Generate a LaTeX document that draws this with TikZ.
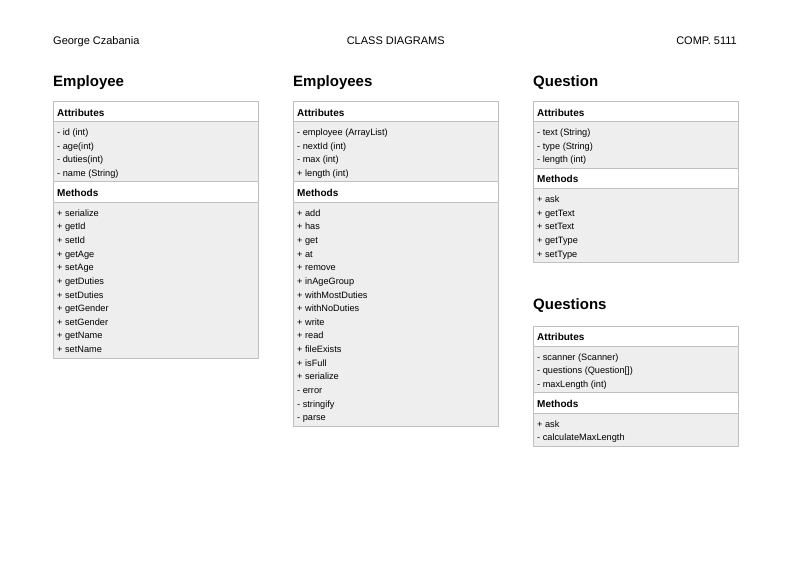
\documentclass[tikz,border=0pt]{standalone}
\usepackage{fontspec}
\setmainfont{Liberation Sans}
\definecolor{boxgray}{RGB}{192,192,192}
\definecolor{listgray}{RGB}{238,238,238}

\begin{document}
\begin{tikzpicture}[x=1pt,y=-1pt,
    classname/.style={anchor=base west, inner sep=0pt, font=\fontsize{15}{18}\selectfont\bfseries},
    sechead/.style={anchor=north west, draw=boxgray, fill=white, minimum width=205.5pt, minimum height=20.5pt, inner sep=0pt, outer sep=0pt},
    seclist/.style={anchor=north west, draw=boxgray, fill=listgray, minimum width=205.5pt, inner sep=0pt, outer sep=0pt},
    headtext/.style={anchor=base west, inner sep=0pt, font=\fontsize{10}{12}\selectfont\bfseries},
    member/.style={anchor=base west, inner sep=0pt, font=\fontsize{9.2}{11}\selectfont},
    toptext/.style={inner sep=0pt, font=\fontsize{11}{13}\selectfont}]
  \useasboundingbox (0,0) rectangle (792,560);

  % page header
  \node[toptext, anchor=base west] (author) at (53,44.3) {George Czabania};
  \node[toptext, anchor=base] (doctitle) at (395.7,44.3) {CLASS DIAGRAMS};
  \node[toptext, anchor=base east] (course) at (737,44.3) {COMP. 5111};

  % Employee
  \node[classname] (emp) at (53,86.5) {Employee};
  \node[sechead] (emp-ah) at (53,101) {};
  \node[headtext] (emp-at) at ([xshift=4pt,yshift=-15pt]emp-ah.north west) {Attributes};
  \node[seclist, minimum height=60.1pt] (emp-al) at (emp-ah.south west) {};
  \foreach \m [count=\i] in {- id (int), - age(int), - duties(int), - name (String)}
    \node[member] (emp-a\i) at ([xshift=4pt,yshift={-14-(\i-1)*13.65}]emp-al.north west) {\m};
  \node[sechead] (emp-mh) at (emp-al.south west) {};
  \node[headtext] (emp-mt) at ([xshift=4pt,yshift=-15pt]emp-mh.north west) {Methods};
  \node[seclist, minimum height=155.65pt] (emp-ml) at (emp-mh.south west) {};
  \foreach \m [count=\i] in {+ serialize, + getId, + setId, + getAge, + setAge, + getDuties,
      + setDuties, + getGender, + setGender, + getName, + setName}
    \node[member] (emp-m\i) at ([xshift=4pt,yshift={-14-(\i-1)*13.65}]emp-ml.north west) {\m};

  % Employees
  \node[classname] (emps) at (293,86.5) {Employees};
  \node[sechead] (emps-ah) at (293,101) {};
  \node[headtext] (emps-at) at ([xshift=4pt,yshift=-15pt]emps-ah.north west) {Attributes};
  \node[seclist, minimum height=60.1pt] (emps-al) at (emps-ah.south west) {};
  \foreach \m [count=\i] in {- employee (ArrayList), - nextId (int), - max (int), + length (int)}
    \node[member] (emps-a\i) at ([xshift=4pt,yshift={-14-(\i-1)*13.65}]emps-al.north west) {\m};
  \node[sechead] (emps-mh) at (emps-al.south west) {};
  \node[headtext] (emps-mt) at ([xshift=4pt,yshift=-15pt]emps-mh.north west) {Methods};
  \node[seclist, minimum height=223.9pt] (emps-ml) at (emps-mh.south west) {};
  \foreach \m [count=\i] in {+ add, + has, + get, + at, + remove, + inAgeGroup, + withMostDuties,
      + withNoDuties, + write, + read, + fileExists, + isFull, + serialize, - error, - stringify, - parse}
    \node[member] (emps-m\i) at ([xshift=4pt,yshift={-14-(\i-1)*13.65}]emps-ml.north west) {\m};

  % Question
  \node[classname] (q) at (533,86.5) {Question};
  \node[sechead] (q-ah) at (533,101) {};
  \node[headtext] (q-at) at ([xshift=4pt,yshift=-15pt]q-ah.north west) {Attributes};
  \node[seclist, minimum height=46.45pt] (q-al) at (q-ah.south west) {};
  \foreach \m [count=\i] in {- text (String), - type (String), - length (int)}
    \node[member] (q-a\i) at ([xshift=4pt,yshift={-14-(\i-1)*13.65}]q-al.north west) {\m};
  \node[sechead] (q-mh) at (q-al.south west) {};
  \node[headtext] (q-mt) at ([xshift=4pt,yshift=-15pt]q-mh.north west) {Methods};
  \node[seclist, minimum height=73.75pt] (q-ml) at (q-mh.south west) {};
  \foreach \m [count=\i] in {+ ask, + getText, + setText, + getType, + setType}
    \node[member] (q-m\i) at ([xshift=4pt,yshift={-14-(\i-1)*13.65}]q-ml.north west) {\m};

  % Questions
  \node[classname] (qs) at (533,309.5) {Questions};
  \node[sechead] (qs-ah) at (533,325.7) {};
  \node[headtext] (qs-at) at ([xshift=4pt,yshift=-15pt]qs-ah.north west) {Attributes};
  \node[seclist, minimum height=46.45pt] (qs-al) at (qs-ah.south west) {};
  \foreach \m [count=\i] in {- scanner (Scanner), - questions (Question[]), - maxLength (int)}
    \node[member] (qs-a\i) at ([xshift=4pt,yshift={-14-(\i-1)*13.65}]qs-al.north west) {\m};
  \node[sechead] (qs-mh) at (qs-al.south west) {};
  \node[headtext] (qs-mt) at ([xshift=4pt,yshift=-15pt]qs-mh.north west) {Methods};
  \node[seclist, minimum height=32.8pt] (qs-ml) at (qs-mh.south west) {};
  \foreach \m [count=\i] in {+ ask, - calculateMaxLength}
    \node[member] (qs-m\i) at ([xshift=4pt,yshift={-14-(\i-1)*13.65}]qs-ml.north west) {\m};
\end{tikzpicture}
\end{document}
